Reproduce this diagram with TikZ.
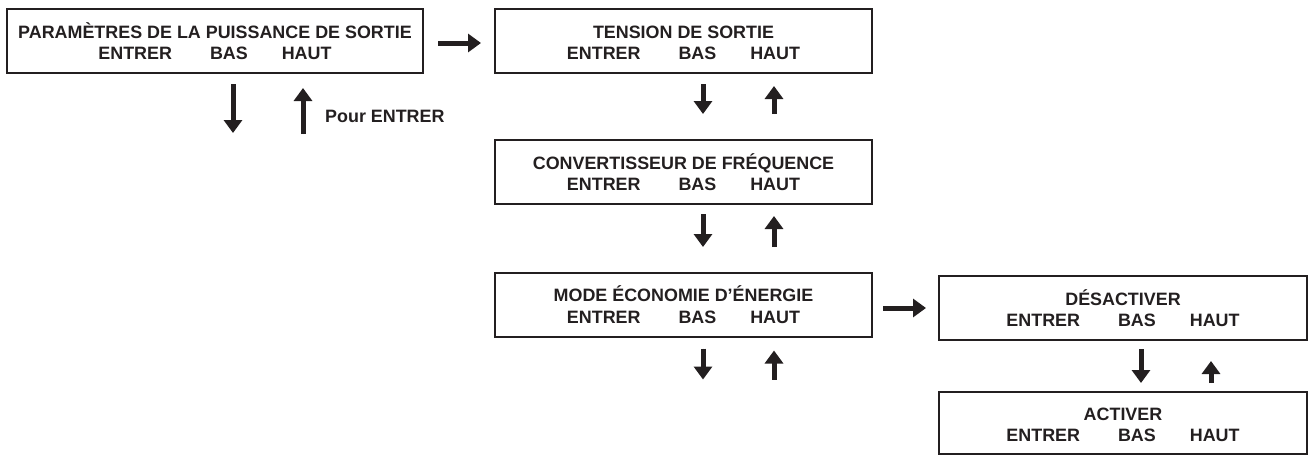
\documentclass[tikz,border=0pt]{standalone}
\usepackage{fontspec}
\setmainfont{Liberation Sans}
\usetikzlibrary{arrows.meta,calc}
\definecolor{ink}{RGB}{35,31,32}
\newcommand\bxstrut{\rule[-2pt]{0pt}{19.5pt}}
\newcommand\bxline{\bxstrut ENTRER\hspace{38pt}BAS\hspace{34pt}HAUT}
\tikzset{
  menubox/.style={draw=ink, line width=2pt, inner sep=0pt, align=center,
    text=ink, font=\fontsize{17.9}{21.5}\selectfont\bfseries,
    minimum height=64pt},
  arr/.style={draw=ink, line width=5pt, -{Triangle[width=18pt,length=13pt]}, fill=ink},
  lbl/.style={text=ink, font=\fontsize{17.9}{21.5}\selectfont\bfseries, inner sep=0pt}
}
\begin{document}
\begin{tikzpicture}[x=1pt,y=-1pt]
\useasboundingbox (0,0) rectangle (1314,459);
\node[menubox, minimum width=416pt] (b1) at (215,41)
  {\bxstrut PARAMÈTRES DE LA PUISSANCE DE SORTIE\\ \bxline};
\node[menubox, minimum width=377pt] (b2) at (683.5,41)
  {\bxstrut TENSION DE SORTIE\\ \bxline};
\node[menubox, minimum width=377pt] (b3) at (683.5,172)
  {\bxstrut CONVERTISSEUR DE FRÉQUENCE\\ \bxline};
\node[menubox, minimum width=377pt] (b4) at (683.5,304.5)
  {\bxstrut MODE ÉCONOMIE D’ÉNERGIE\\ \bxline};
\node[menubox, minimum width=368pt] (b5) at (1123,308)
  {\bxstrut DÉSACTIVER\\ \bxline};
\node[menubox, minimum width=368pt, minimum height=62pt] (b6) at (1123,423)
  {\bxstrut ACTIVER\\ \bxline};
% horizontal arrows
\draw[arr] ($(b1.east)+(14,2)$) -- ($(b2.west)+(-13,2)$);
\draw[arr] ($(b4.east |- b5.west)+(10,0)$) -- ($(b5.west)+(-12,0)$);
% vertical arrows below b1
\draw[arr] ($(b1.south)+(18,10)$) -- ($(b1.south)+(18,59)$);
\draw[arr] ($(b1.south)+(88,60)$) -- ($(b1.south)+(88,14)$);
\node[lbl, anchor=base west] (pour) at ($(b1.south)+(110,48.4)$) {Pour ENTRER};
% b2 -> b3
\draw[arr] ($(b2.south)+(19.5,10)$) -- ($(b2.south)+(19.5,40)$);
\draw[arr] ($(b2.south)+(90.5,40)$) -- ($(b2.south)+(90.5,12)$);
% b3 -> b4
\draw[arr] ($(b3.south)+(19.5,9)$) -- ($(b3.south)+(19.5,42)$);
\draw[arr] ($(b3.south)+(90.5,42)$) -- ($(b3.south)+(90.5,11)$);
% below b4
\draw[arr] ($(b4.south)+(19.5,11)$) -- ($(b4.south)+(19.5,42)$);
\draw[arr] ($(b4.south)+(90.5,42)$) -- ($(b4.south)+(90.5,13)$);
% b5 -> b6
\draw[arr] ($(b5.south)+(18,8)$) -- ($(b5.south)+(18,42)$);
\draw[arr] ($(b5.south)+(88,42)$) -- ($(b5.south)+(88,20)$);
\end{tikzpicture}
\end{document}
